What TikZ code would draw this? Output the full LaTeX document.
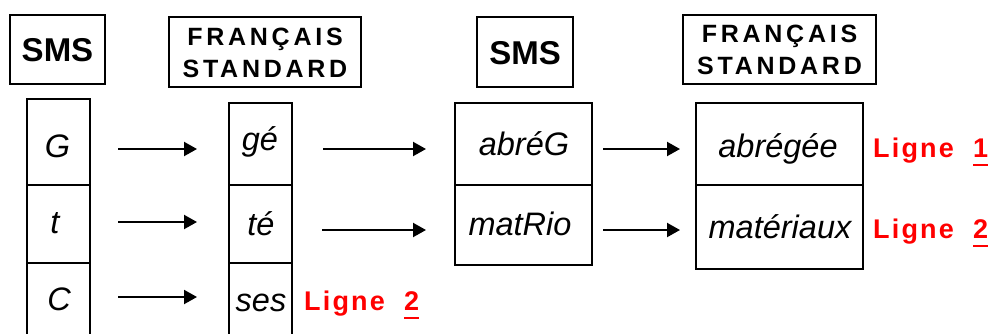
\documentclass[tikz,border=0pt]{standalone}
\usepackage{fontspec}
\setmainfont{Liberation Sans}
\newfontfamily\hA{Liberation Sans}[LetterSpace=15]
\newfontfamily\lgfont{Liberation Sans}[LetterSpace=8]
\usetikzlibrary{arrows.meta}
\definecolor{lred}{RGB}{255,0,0}
\newcommand\myul[1]{\setbox0\hbox{#1}\rlap{\color{lred}\rule[-9pt]{\wd0}{2pt}}\box0}
\begin{document}
\begin{tikzpicture}[x=1pt,y=-1pt,
  box/.style={draw, line width=1.7pt, inner sep=0pt, outer sep=0pt},
  cell/.style={box},
  entry/.style={anchor=base, inner sep=0pt, font=\itshape\fontsize{32.5}{32.5}\selectfont},
  smshead/.style={box, text height=24pt, text depth=0pt, font=\bfseries\fontsize{33}{33}\selectfont},
  fshead/.style={box, align=center, text height=50pt, text depth=0pt, font=\hA\bfseries\fontsize{25}{32}\selectfont},
  lig/.style={anchor=base west, inner sep=0pt, text=lred, font=\lgfont\bfseries\fontsize{27}{27}\selectfont},
  arr/.style={line width=2.1pt, -{Triangle[length=13pt,width=14pt]}}]
\useasboundingbox (0,0) rectangle (995,333);
\clip (0,0) rectangle (995,333);
% headers
\node[smshead, minimum width=95pt, minimum height=69pt] (h1) at (57.5,49.5) {SMS};
\node[fshead, minimum width=192pt, minimum height=70pt] (h2) at (265,52) {FRANÇAIS\\STANDARD};
\node[smshead, minimum width=96pt, minimum height=70pt] (h3) at (525,52) {SMS};
\node[fshead, minimum width=193pt, minimum height=69pt] (h4) at (779.5,49.5) {FRANÇAIS\\STANDARD};
% column 1
\node[cell, minimum width=63pt, minimum height=86pt] (a1) at (58.5,142) {};
\node[cell, minimum width=63pt, minimum height=78pt] (a2) at (58.5,224) {};
\node[cell, minimum width=63pt, minimum height=80pt] (a3) at (58.5,303) {};
\node[entry] (ta1) at (57.5,157) {G};
\node[entry] (ta2) at (55,233) {t};
\node[entry] (ta3) at (59,310) {C};
% column 2
\node[cell, minimum width=63pt, minimum height=82pt] (b1) at (260.5,144) {};
\node[cell, minimum width=63pt, minimum height=78pt] (b2) at (260.5,224) {};
\node[cell, minimum width=63pt, minimum height=80pt] (b3) at (260.5,303) {};
\node[entry] (tb1) at (260,150) {gé};
\node[entry] (tb2) at (261,235) {té};
\node[entry] (tb3) at (261,311) {ses};
% column 3
\node[cell, minimum width=137pt, minimum height=82pt] (c1) at (523.5,144) {};
\node[cell, minimum width=137pt, minimum height=80pt] (c2) at (523.5,225) {};
\node[entry] (tc1) at (524,155) {abréG};
\node[entry] (tc2) at (520,235) {matRio};
% column 4
\node[cell, minimum width=167pt, minimum height=82pt] (d1) at (779.5,144) {};
\node[cell, minimum width=167pt, minimum height=84pt] (d2) at (779.5,227) {};
\node[entry] (td1) at (778,157) {abrégée};
\node[entry] (td2) at (780,238) {matériaux};
% labels
\node[lig] (l1) at (873,157) {Ligne\ \ \myul{1}};
\node[lig] (l2) at (873,238) {Ligne\ \ \myul{2}};
\node[lig] (l3) at (304,310) {Ligne\ \ \myul{2}};
% arrow ends
\coordinate (s1) at (118,149); \coordinate (e1) at (197,149);
\coordinate (s2) at (118,222); \coordinate (e2) at (197,222);
\coordinate (s3) at (118,297); \coordinate (e3) at (197,297);
\coordinate (s4) at (323,149); \coordinate (e4) at (426,149);
\coordinate (s5) at (322,230); \coordinate (e5) at (426,230);
\coordinate (s6) at (603,149); \coordinate (e6) at (680,149);
\coordinate (s7) at (603,230); \coordinate (e7) at (680,230);
\foreach \i in {1,...,7} \draw[arr] (s\i) -- (e\i);
\end{tikzpicture}
\end{document}
